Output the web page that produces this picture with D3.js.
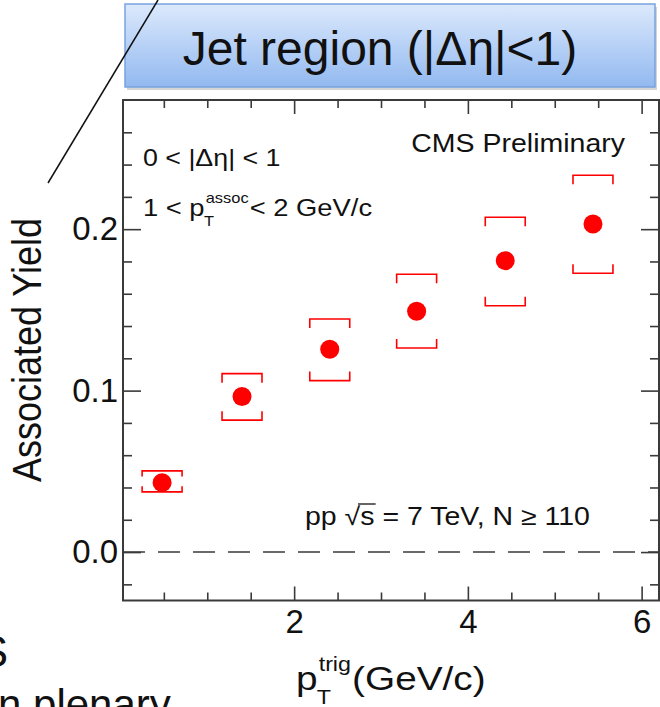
<!DOCTYPE html>
<html>
<head>
<meta charset="utf-8">
<script src="https://cdn.jsdelivr.net/npm/d3@7"></script>
<style>
  body { margin: 0; background: #fff; }
  svg { display: block; font-family: "Liberation Sans", Arial, sans-serif; }
</style>
</head>
<body>
<div id="chart"></div>
<script>
// data
const ptTrig = [0.48, 1.40, 2.41, 3.41, 4.43, 5.44];
const yieldVals = [0.0430, 0.0963, 0.1256, 0.1492, 0.1805, 0.2032];
const sysLow = [0.0373, 0.0817, 0.1062, 0.1264, 0.1526, 0.1727];
const sysHigh = [0.0503, 0.1105, 0.1444, 0.1721, 0.2074, 0.2334];
const sysHalfWidth = 0.23;

const xMajor = [2, 4, 6];
const xMinor = [0.5, 1, 1.5, 2.5, 3, 3.5, 4.5, 5, 5.5];
const yMajor = [0.0, 0.1, 0.2];
const yMinor = [-0.02, 0.02, 0.04, 0.06, 0.08, 0.12, 0.14, 0.16, 0.18, 0.22, 0.24, 0.26];

const W = 660, H = 707;
const frameL = 123, frameR = 659, frameT = 100, frameB = 600.5;
const red = "#ff0000";
const axisColor = "#3a3a3a";
const ink = "#111";
// the plot picture sits a bit wider than tall on the slide
const stretch = 1.14;

const svg = d3.select("#chart").append("svg")
    .attr("width", W)
    .attr("height", H);

const x = d3.scaleLinear().domain([0.03, 6.2]).range([frameL, frameR]);
const y = d3.scaleLinear().domain([-0.03, 0.28]).range([frameB, frameT]);

// banner
const defs = svg.append("defs");
const grad = defs.append("linearGradient")
    .attr("id", "banner-grad")
    .attr("x1", "0%").attr("y1", "0%")
    .attr("x2", "0%").attr("y2", "100%");
grad.append("stop").attr("offset", "0%").attr("stop-color", "#dce9fc");
grad.append("stop").attr("offset", "100%").attr("stop-color", "#92b9f0");

svg.append("rect")
    .attr("x", 127).attr("y", 7)
    .attr("width", 530).attr("height", 83)
    .attr("fill", "#b9b9b9").attr("opacity", 0.6);
svg.append("rect")
    .attr("x", 125).attr("y", 4)
    .attr("width", 530).attr("height", 83)
    .attr("fill", "url(#banner-grad)")
    .attr("stroke", "#78a2de")
    .attr("stroke-width", 1.5);
svg.append("text")
    .attr("x", 380).attr("y", 65)
    .attr("text-anchor", "middle")
    .style("font-size", "48px")
    .attr("fill", ink)
    .text("Jet region (|\u0394\u03b7|<1)");

// pointer line from the slide
svg.append("line")
    .attr("x1", 158).attr("y1", 0)
    .attr("x2", 48).attr("y2", 183)
    .attr("stroke", ink)
    .attr("stroke-width", 1.5);

// frame
const plot = svg.append("g");

plot.append("line")
    .attr("x1", frameL).attr("x2", frameR)
    .attr("y1", y(0)).attr("y2", y(0))
    .attr("stroke", axisColor)
    .attr("stroke-width", 1.6)
    .attr("stroke-dasharray", "22,13");

function tickAxis(axisFn, scale, values, size, tx, ty, labels) {
    const g = plot.append("g")
        .attr("transform", `translate(${tx},${ty})`)
        .call(axisFn(scale).tickValues(values).tickSize(size).tickPadding(5)
            .tickFormat(labels ? labels : ""));
    g.select(".domain").remove();
    g.selectAll("line").attr("stroke", axisColor).attr("stroke-width", 1.6);
    g.selectAll("text")
        .style("font-size", "33px")
        .style("font-family", "Liberation Sans, Arial, sans-serif")
        .attr("fill", ink);
    return g;
}

// left / right
tickAxis(d3.axisLeft, y, yMajor, -18, frameL, 0, d => d3.format(".1f")(d));
tickAxis(d3.axisLeft, y, yMinor, -9, frameL, 0);
tickAxis(d3.axisRight, y, yMajor, -18, frameR, 0);
tickAxis(d3.axisRight, y, yMinor, -9, frameR, 0);
// bottom / top
const xb = tickAxis(d3.axisBottom, x, xMajor, -14, 0, frameB, d => d3.format("d")(d));
xb.selectAll("text").attr("dy", "0.84em");
tickAxis(d3.axisBottom, x, xMinor, -8, 0, frameB);
tickAxis(d3.axisTop, x, xMajor, -14, 0, frameT);
tickAxis(d3.axisTop, x, xMinor, -8, 0, frameT);

plot.append("rect")
    .attr("x", frameL).attr("y", frameT)
    .attr("width", frameR - frameL).attr("height", frameB - frameT)
    .attr("fill", "none")
    .attr("stroke", axisColor)
    .attr("stroke-width", 2);

// systematic brackets
const pts = ptTrig.map((p, i) => ({ p: p, v: yieldVals[i], lo: sysLow[i], hi: sysHigh[i] }));

plot.append("g").selectAll("path")
    .data(pts)
    .enter().append("path")
    .attr("fill", "none")
    .attr("stroke", red)
    .attr("stroke-width", 1.6)
    .attr("d", function(d) {
        const x0 = x(d.p - sysHalfWidth), x1 = x(d.p + sysHalfWidth);
        const yt = y(d.hi), yb = y(d.lo);
        const t = Math.min(9, (yb - yt) * 0.27);
        return `M${x0},${yt + t}V${yt}H${x1}V${yt + t}` +
               `M${x0},${yb - t}V${yb}H${x1}V${yb - t}`;
    });

plot.append("g").selectAll("circle")
    .data(pts)
    .enter().append("circle")
    .attr("cx", d => x(d.p))
    .attr("cy", d => y(d.v))
    .attr("r", 9.5)
    .attr("fill", red);

// stretched label helper
function label(xp, yp, size, txt, anchor) {
    const g = svg.append("g").attr("transform", `translate(${xp},${yp}) scale(${stretch},1)`);
    g.append("text")
        .attr("text-anchor", anchor || "start")
        .style("font-size", size + "px").attr("fill", ink)
        .text(txt);
    return g;
}

// text with stacked sub/superscript (ROOT style)
function subSup(xp, yp, size, base, sup, sub, after) {
    const g = svg.append("g").attr("transform", `translate(${xp},${yp}) scale(${stretch},1)`);
    const t0 = g.append("text").style("font-size", size + "px").attr("fill", ink).text(base);
    const w0 = t0.node().getComputedTextLength();
    const small = size * 0.6;
    const ts = g.append("text").attr("x", w0 + 1).attr("y", -size * 0.55)
        .style("font-size", small + "px").attr("fill", ink).text(sup);
    const tb = g.append("text").attr("x", w0 - size * 0.02).attr("y", size * 0.42)
        .style("font-size", small + "px").attr("fill", ink).text(sub);
    const w1 = Math.max(ts.node().getComputedTextLength(), tb.node().getComputedTextLength());
    g.append("text").attr("x", w0 + w1 + 2)
        .style("font-size", size + "px").attr("fill", ink).text(after);
    return g;
}

// annotations
label(143, 166, 23.5, "0 < |\u0394\u03b7| < 1");
subSup(143, 216, 24, "1 < p", "assoc", "T", " < 2 GeV/c");
label(625, 152, 25, "CMS Preliminary", "end");

const ppG = label(305, 525, 25, "pp \u221as = 7 TeV, N \u2265 110");
{
    const node = ppG.select("text").node();
    const sx0 = node.getSubStringLength(0, 4);
    const sx1 = node.getSubStringLength(0, 5);
    ppG.append("line")
        .attr("x1", sx0 - 2).attr("x2", sx1 + 1)
        .attr("y1", -21).attr("y2", -21)
        .attr("stroke", ink).attr("stroke-width", 1.3);
}

// axis titles
svg.append("text")
    .attr("transform", `translate(41,350) scale(${stretch},1) rotate(-90)`)
    .attr("text-anchor", "middle")
    .style("font-size", "36px").attr("fill", ink)
    .text("Associated Yield");

subSup(296, 690, 34, "p", "trig", "T", "(GeV/c)");

// leftover slide text
svg.append("text")
    .attr("x", 8).attr("y", 667)
    .attr("text-anchor", "end")
    .style("font-size", "44px").attr("fill", ink)
    .text("S");
svg.append("text")
    .attr("x", -2).attr("y", 719)
    .style("font-size", "42px").attr("fill", ink)
    .text("n plenary");
</script>
</body>
</html>
